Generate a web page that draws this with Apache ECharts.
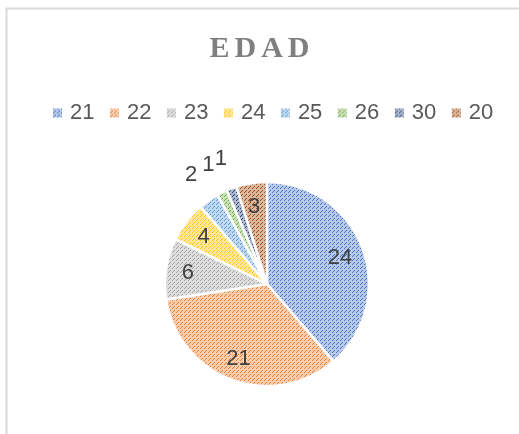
<!DOCTYPE html>
<html>
<head>
<meta charset="utf-8">
<script src="https://cdn.jsdelivr.net/npm/echarts@6/dist/echarts.min.js"></script>
<style>
  html, body { margin: 0; padding: 0; background: #fff; }
  #chart { width: 519px; height: 434px; }
</style>
</head>
<body>
<div id="chart"></div>
<script>
  // datos
  const ageNames = ['21', '22', '23', '24', '25', '26', '30', '20'];
  const ageCounts = [24, 21, 6, 4, 2, 1, 1, 3];

  const palette = ['#4472C4', '#ED7D31', '#A5A5A5', '#FFC000', '#5B9BD5', '#70AD47', '#264478', '#9E480E'];

  // trama diagonal discontinua tipo Excel
  const makePattern = (hex) => {
    const size = 8;
    const cv = document.createElement('canvas');
    cv.width = size;
    cv.height = size;
    const ctx = cv.getContext('2d');
    const img = ctx.createImageData(size, size);
    const rgb = [1, 3, 5].map((o) => parseInt(hex.slice(o, o + 2), 16));
    const light = rgb.map((c) => Math.round(c + (255 - c) * 0.62));
    for (let y = 0; y < size; y++) {
      for (let x = 0; x < size; x++) {
        const i = (y * size + x) * 4;
        const onLine = (x + y) % 4 === 0 && x % 4 !== 3;
        const c = onLine ? rgb : light;
        img.data[i] = c[0];
        img.data[i + 1] = c[1];
        img.data[i + 2] = c[2];
        img.data[i + 3] = 255;
      }
    }
    ctx.putImageData(img, 0, 0);
    return { image: cv, repeat: 'repeat' };
  };

  const patterns = palette.map(makePattern);
  const isSmall = (v) => v <= 2;

  const pieData = ageNames.map((name, i) => ({
    name,
    value: ageCounts[i],
    itemStyle: { color: patterns[i] },
  }));

  // etiquetas dentro del sector (rebanadas grandes)
  const innerLabelData = ageNames.map((name, i) => ({
    name,
    value: ageCounts[i],
    label: { show: !isSmall(ageCounts[i]) },
  }));

  // etiquetas fuera del pastel (rebanadas pequeñas)
  const outerLabelData = ageNames.map((name, i) => ({
    name,
    value: ageCounts[i],
    label: { show: isSmall(ageCounts[i]) },
  }));

  const chart = echarts.init(document.getElementById('chart'));

  const labelFont = {
    fontFamily: 'Liberation Sans',
    fontSize: 22,
  };

  const ghostSeries = (center, radius, data) => ({
    type: 'pie',
    center,
    radius,
    startAngle: 90,
    clockwise: true,
    silent: true,
    avoidLabelOverlap: false,
    itemStyle: { color: 'rgba(0,0,0,0)', borderWidth: 0 },
    label: {
      position: 'inside',
      formatter: '{c}',
      ...labelFont,
      color: '#404040',
    },
    labelLine: { show: false },
    data,
  });

  const option = {
    animation: false,
    title: {
      text: '{l|E}{l|D}{l|A}{l|D}',
      left: 'center',
      top: 29,
      textStyle: {
        rich: {
          l: {
            fontFamily: 'Liberation Serif',
            fontWeight: 'bold',
            fontSize: 30,
            color: '#7f7f7f',
            padding: [0, 2.5, 0, 2.5],
          },
        },
      },
    },
    legend: {
      data: ageNames,
      left: 48,
      top: 97,
      icon: 'rect',
      itemWidth: 9,
      itemHeight: 9,
      itemGap: 15.5,
      itemStyle: { borderWidth: 0 },
      textStyle: { ...labelFont, color: '#595959', padding: [0, 0, 0, 3] },
    },
    graphic: [
      {
        type: 'rect',
        shape: { x: 6.5, y: 8.5, width: 700, height: 700 },
        style: { fill: 'none', stroke: '#d9d9d9', lineWidth: 2 },
        silent: true,
      },
    ],
    series: [
      {
        type: 'pie',
        center: [267, 284],
        radius: [0, 102],
        startAngle: 90,
        clockwise: true,
        avoidLabelOverlap: false,
        itemStyle: { borderColor: '#ffffff', borderWidth: 2.5 },
        label: { show: false },
        labelLine: { show: false },
        data: pieData,
      },
      ghostSeries([266, 285], [50, 102], innerLabelData),
      ghostSeries([267, 284], [118, 142], outerLabelData),
    ],
  };

  chart.setOption(option);
</script>
</body>
</html>
